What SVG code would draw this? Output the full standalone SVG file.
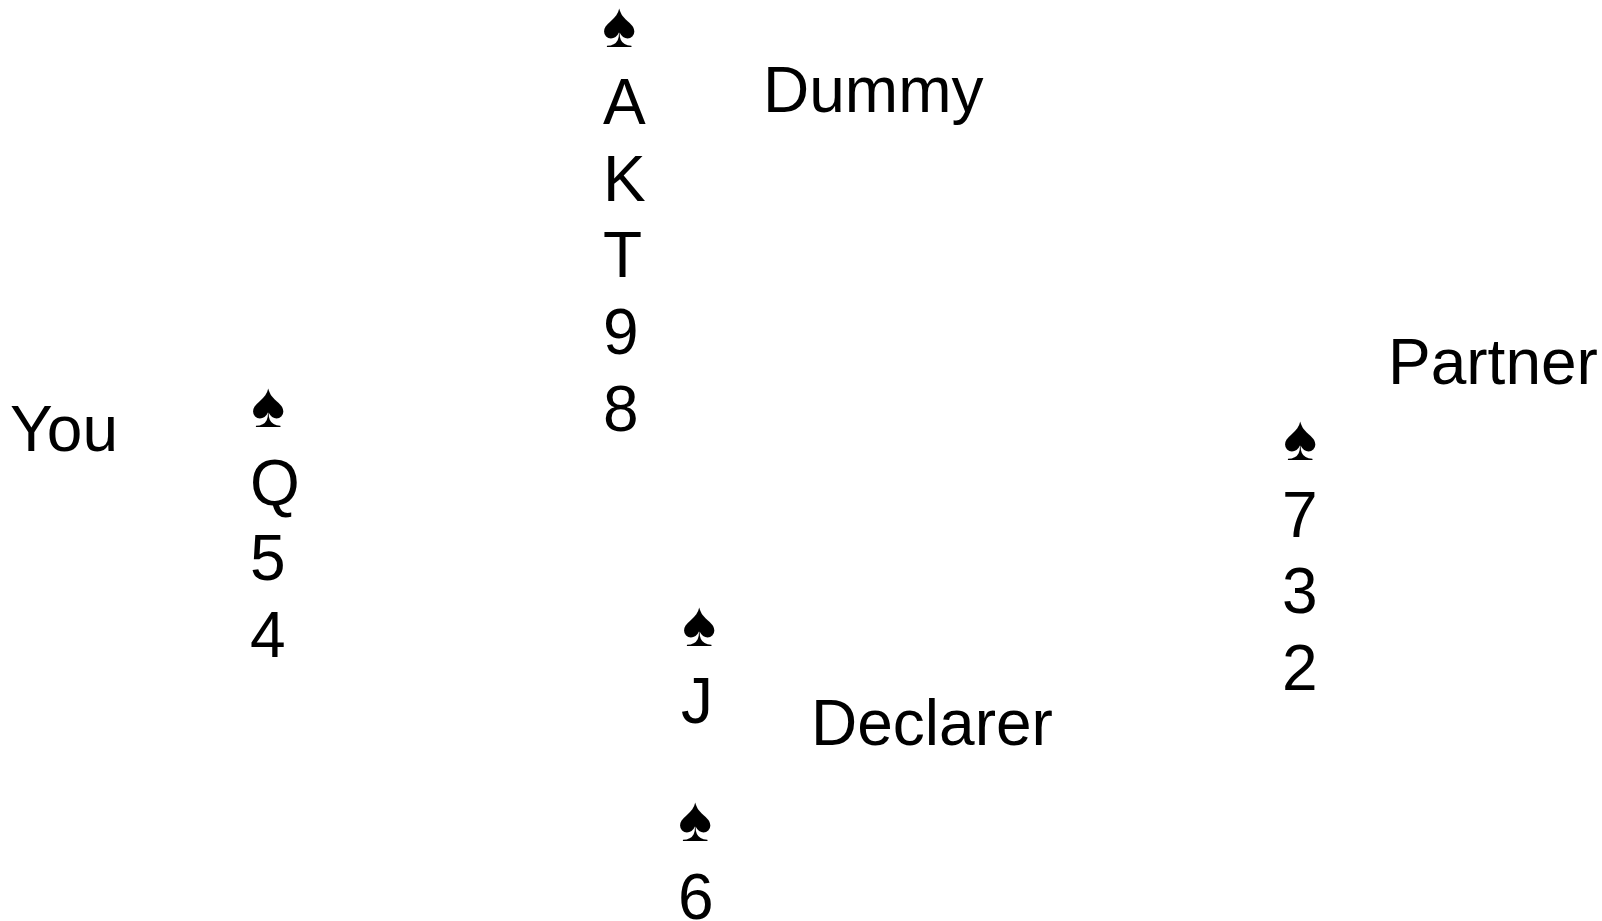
<svg xmlns="http://www.w3.org/2000/svg" width="1602" height="921" viewBox="0 0 1602 921">
<style>
text { font-family: "Liberation Sans", Arial, "DejaVu Sans", sans-serif; font-size: 64px; fill: #000; }
</style>
<rect width="1602" height="921" fill="#fff"/>
<g id="dummy">
<text x="763" y="112">Dummy</text>
<text x="602" y="47">♠</text>
<text x="603" y="124">A</text>
<text x="603" y="201">K</text>
<text x="603" y="277">T</text>
<text x="603" y="354">9</text>
<text x="603" y="431">8</text>
</g>
<g id="you">
<text x="10" y="451">You</text>
<text x="251" y="427">♠</text>
<text x="250" y="505">Q</text>
<text x="250" y="580">5</text>
<text x="250" y="657">4</text>
</g>
<g id="partner">
<text x="1388" y="384">Partner</text>
<text x="1283" y="460">♠</text>
<text x="1282" y="537">7</text>
<text x="1282" y="613">3</text>
<text x="1282" y="690">2</text>
</g>
<g id="declarer">
<text x="811" y="745">Declarer</text>
<text x="682" y="646">♠</text>
<text x="681" y="723">J</text>
</g>
<g id="played">
<text x="678" y="841">♠</text>
<text x="678" y="919">6</text>
</g>
</svg>
